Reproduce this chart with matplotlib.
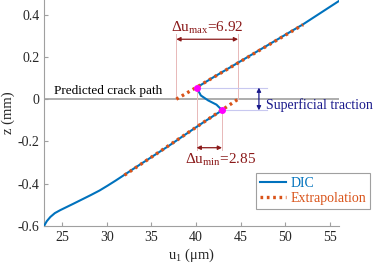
import matplotlib
matplotlib.use("Agg")
import matplotlib.pyplot as plt

# ── style ──────────────────────────────────────────────────────────────────
plt.rcParams.update({
    "font.family": "Liberation Serif", "font.size": 10,
    "mathtext.fontset": "custom", "mathtext.rm": "Liberation Serif",
    "mathtext.it": "Liberation Serif:italic",
    "axes.unicode_minus": False,
})

BLUE = "#0072BD"
ORANGE = "#D95319"
DARKRED = "#8B1A1A"
PINK = "#E8B8B8"
NAVY = "#1A1A8C"
LAVENDER = "#C8C8F0"

# ── data ──────────────────────────────────────────────────────────────────
dic_u = [23.0, 23.3, 23.7, 24.2, 24.8, 26.3, 28.2, 29.2, 30.1, 31.0, 31.9, 33.0,
         35.0, 37.0, 39.0, 41.0, 42.92,
         42.75, 42.3, 41.37, 40.55, 40.07,
         42.0, 44.0, 46.0, 48.0, 50.0, 52.0, 54.0, 56.0]
dic_z = [-0.60, -0.578, -0.558, -0.540, -0.526, -0.495, -0.455, -0.433, -0.41,
         -0.386, -0.361, -0.33, -0.275, -0.22, -0.162, -0.105, -0.053,
         -0.045, -0.026, -0.006, 0.0175, 0.055,
         0.105, 0.155, 0.205, 0.255, 0.305, 0.355, 0.41, 0.465]

ext_low_u = [32.0, 44.72]
ext_low_z = [-0.36, 0.0]
ext_up_u = [37.8, 52.0]
ext_up_z = [0.0, 0.353]

mark_u = [40.07, 42.92]
mark_z = [0.055, -0.053]

du_max = 6.92
du_min = 2.85

fig = plt.figure(figsize=(3.74, 2.65), dpi=100)
ax = fig.add_axes([0.118, 0.148, 0.788, 0.852])

# crack path line
ax.axhline(0, color="#a0a0a0", lw=1.2, zorder=1)
ax.text(24.1, 0.008, "Predicted crack path", fontsize=9.5, ha="left", va="bottom")

# Δu_max annotation
ax.plot([ext_up_u[0]] * 2, [0, 0.31], color=PINK, lw=0.7, zorder=1)
ax.plot([ext_low_u[1]] * 2, [0, 0.31], color=PINK, lw=0.7, zorder=1)
ax.annotate("", xy=(ext_up_u[0], 0.284), xytext=(ext_low_u[1], 0.284),
            arrowprops=dict(arrowstyle="<|-|>", color=DARKRED, lw=0.9,
                            mutation_scale=6, shrinkA=0, shrinkB=0))
ax.text((ext_up_u[0] + ext_low_u[1]) / 2, 0.30,
        r"$\Delta\mathrm{u}_{\mathrm{max}}$=%.2f" % du_max,
        color=DARKRED, fontsize=11, ha="center", va="bottom")

# Δu_min annotation
ax.plot([mark_u[0]] * 2, [mark_z[0], -0.24], color=PINK, lw=0.7, zorder=1)
ax.plot([mark_u[1]] * 2, [mark_z[1], -0.24], color=PINK, lw=0.7, zorder=1)
ax.annotate("", xy=(mark_u[0], -0.23), xytext=(mark_u[1], -0.23),
            arrowprops=dict(arrowstyle="<|-|>", color=DARKRED, lw=0.9,
                            mutation_scale=6, shrinkA=0, shrinkB=0))
ax.text(38.75, -0.25, r"$\Delta\mathrm{u}_{\mathrm{min}}$=%.2f" % du_min,
        color=DARKRED, fontsize=11, ha="left", va="top")

# superficial traction
ax.plot([mark_u[0], 47.9], [mark_z[0]] * 2, color=LAVENDER, lw=0.8, zorder=1)
ax.plot([mark_u[1], 47.9], [mark_z[1]] * 2, color=LAVENDER, lw=0.8, zorder=1)
ax.annotate("", xy=(47.05, mark_z[0]), xytext=(47.05, mark_z[1]),
            arrowprops=dict(arrowstyle="<|-|>", color=NAVY, lw=0.9,
                            mutation_scale=6, shrinkA=0, shrinkB=0))
ax.text(47.85, -0.03, "Superficial traction", color=NAVY, fontsize=10,
        ha="left", va="center")

# curves
ax.plot(dic_u, dic_z, color=BLUE, lw=1.5, label="DIC", zorder=3)
ax.plot(ext_low_u, ext_low_z, color=ORANGE, lw=2.4, ls=(0, (0.8, 1.1)),
        label="Extrapolation", zorder=4)
ax.plot(ext_up_u, ext_up_z, color=ORANGE, lw=2.4, ls=(0, (0.8, 1.1)), zorder=4)
ax.plot(mark_u, mark_z, "o", color="#FF00FF", ms=4, zorder=5)

ax.set_xlim(23, 56)
ax.set_ylim(-0.6, 0.47)
ax.set_xticks([25, 30, 35, 40, 45, 50, 55])
ax.set_yticks([-0.6, -0.4, -0.2, 0, 0.2, 0.4])
ax.set_yticklabels(["-0.6", "-0.4", "-0.2", "0", "0.2", "0.4"])
for s in ["top", "right"]:
    ax.spines[s].set_visible(False)
for s in ["left", "bottom"]:
    ax.spines[s].set_color("#a0a0a0")
ax.tick_params(direction="in", length=3, color="#a0a0a0", labelcolor="#262626",
               labelsize=10)
ax.set_xlabel(r"u$_1$ ($\mathrm{\mu}$m)", fontsize=10.5, labelpad=2, color="#262626")
ax.set_ylabel("z (mm)", fontsize=10.5, labelpad=2, color="#262626")

leg = ax.legend(loc="lower right", bbox_to_anchor=(1.13, 0.045), fontsize=10,
                handlelength=1.9, handletextpad=0.3, borderpad=0.3,
                labelspacing=0.1, fancybox=False, framealpha=1)
leg.get_frame().set_edgecolor("#a0a0a0")
leg.get_frame().set_linewidth(0.8)
for t, c in zip(leg.get_texts(), [BLUE, ORANGE]):
    t.set_color(c)

fig.savefig("out.png", dpi=100)
